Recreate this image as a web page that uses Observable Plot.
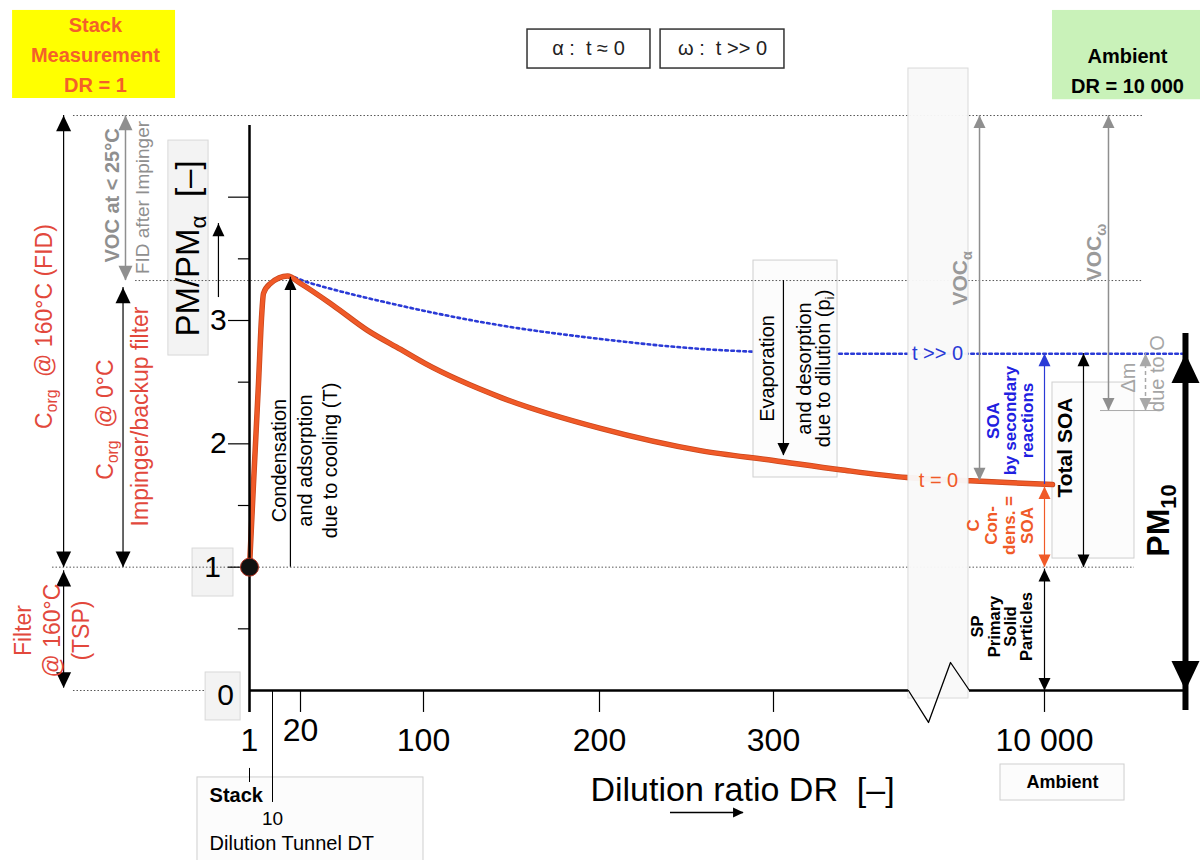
<!DOCTYPE html>
<html><head><meta charset="utf-8">
<script src="https://cdn.jsdelivr.net/npm/d3@7"></script>
<script src="https://cdn.jsdelivr.net/npm/@observablehq/plot@0.6"></script>
<style>
html,body{margin:0;padding:0;background:#fff;}
#chart{width:1200px;height:860px;overflow:hidden;}
svg text{white-space:pre;}
</style></head><body><div id="chart"></div>
<script>
// ---------- piecewise scale knots (broken dilution-ratio axis) ----------
const drKnots  = [-100, 1, 10, 20, 100, 200, 300, 380, 9000, 10000, 12000];
const drPixels = [0, 249, 272, 300, 423, 599, 773, 910, 968, 1044, 1196];
const pmKnots  = [0, 3];
const pmPixels = [690, 320];

// ---------- series ----------
const drT0 = [1, 2.57, 4.52, 5.7, 6.48, 9.22, 15.4, 20, 41.5, 63.6, 85.2, 101.1, 144.2, 200.6, 258, 300, 339, 378, 9025, 10105];
const pmT0 = [1.0, 1.68, 2.49, 3.02, 3.22, 3.30, 3.36, 3.30, 3.12, 2.92, 2.765, 2.65, 2.375, 2.125, 1.945, 1.865, 1.79, 1.727, 1.70, 1.67];
const drTinf = [1, 2.57, 4.52, 6.48, 15.4, 24.6, 85.2, 144, 200.6, 258, 304, 345, 380, 9000, 11855];
const pmTinf = [1.0, 1.68, 2.49, 3.22, 3.36, 3.31, 3.12, 2.96, 2.85, 2.77, 2.74, 2.73, 2.73, 2.73, 2.73];
const stackPoint = [{dr: 1, pm: 1}];

// ---------- ticks ----------
const xTicks = [1, 20, 100, 200, 300, 10000];
const xTickLabels = ["1", "20", "100", "200", "300", "10 000"];
const yMajorTicks = [1, 2, 3, 4];
const yMinorTicks = [0.5, 1.5, 2.5, 3.5];
const yPlainLabels = [2, 3];
const yBoxedLabels = [{x: -14.0, y: 1.0, text: "1"}, {x: -8.7, y: -0.04, text: "0"}];

// ---------- annotation geometry (data units) ----------
const yellowBox = [{x1: -95.1, x2: -29.0, y1: 4.80, y2: 5.514}];
const greenBox = [{x1: 10105, x2: 12100, y1: 4.79, y2: 5.514}];
const legendBoxes = [{x1: 159.1, x2: 229.3, y1: 5.043, y2: 5.359}, {x1: 235.1, x2: 306.4, y1: 5.043, y2: 5.359}];
const labelBoxes = [
  {x1: -31.9, x2: -15.6, y1: 2.716, y2: 4.459},
  {x1: -22.1, x2: -5.5, y1: 0.762, y2: 1.151},
  {x1: -16.8, x2: -2.6, y1: -0.243, y2: 0.146}
];
const noteBoxes = [
  {x1: 288.5, x2: 337.4, y1: 1.727, y2: 3.486},
  {x1: 10105, x2: 11184, y1: 1.070, y2: 2.497},
  {x1: -20.1, x2: 100, y1: -1.5, y2: -0.705},
  {x1: 9421, x2: 11053, y1: -0.892, y2: -0.600}
];
const breakBand = [{x1: 378.8, x2: 9000, y1: -0.065, y2: 5.043}];
const guideLines = [
  {y: 4.662, x1: -70.4, x2: 11289},
  {y: 3.324, x1: -45.2, x2: 11289},
  {y: 1.0, x1: -78.9, x2: 11184},
  {y: 0, x1: -70.4, x2: -16.8}
];
const xAxisPieces = [{y: 0, x1: 1, x2: 378.8}, {y: 0, x1: 9013, x2: 11855}];
const axisBreak = [{dr: 378.8, pm: 0}, {dr: 3055, pm: -0.259}, {dr: 6325, pm: 0.227}, {dr: 9013, pm: 0}];
const thinRules = [{x: 10, y1: -0.908, y2: 0}, {x: 1, y1: -0.746, y2: -0.632}];
const deltaRule = [{y: 2.27, x1: 10737, x2: 11526}];

const blackArrowsLeft = [
  {x: -74.4, y1: 1.0, y2: 4.662, head: "both"},
  {x: -74.4, y1: 0.02, y2: 0.97, head: "both"},
  {x: -50.3, y1: 1.0, y2: 3.268, head: "both"}
];
const grayArrowsLeft = [{x: -49.3, y1: 3.324, y2: 4.662, head: "both"}];
const blackArrows = [
  {x: 16.4, y1: 1.0, y2: 3.35, head: "up"},
  {x: 305.8, y1: 1.905, y2: 3.324, head: "down"},
  {x: 10513, y1: 1.0, y2: 2.732, head: "both"},
  {x: 10000, y1: 0, y2: 0.985, head: "both"},
  {x: -11.6, y1: 3.186, y2: 3.786, head: "up"}
];
const grayArrows = [
  {x: 9145, y1: 1.703, y2: 4.662, head: "both"},
  {x: 10842, y1: 2.270, y2: 4.662, head: "both"}
];
const dashedArrows = [{x: 11329, y1: 2.270, y2: 2.732, head: "both"}];
const blueArrows = [{x: 10000, y1: 1.67, y2: 2.732, head: "up"}];
const redArrows = [{x: 10000, y1: 1.0, y2: 1.654, head: "both"}];
const pmArrow = [{x: 11855, y1: 0, y2: 2.732, head: "both"}];
const drArrow = [{y: -0.989, x1: 240.8, x2: 282.8}];

// ---------- texts ----------
const yellowText = [{x: -61.5, y: 5.173, text: "Stack\nMeasurement\nDR = 1"}];
const greenText = [{x: 11092, y: 5.043, text: "Ambient\nDR = 10 000"}];
const legendText = [{x: 193.75, y: 5.205, text: "α :  t ≈ 0"}, {x: 270.7, y: 5.205, text: "ω :  t >> 0"}];
const yTitle = [{x: -23.7, y: 3.584, text: "PM/PM_{α}  [–]"}];
const leftRedText = [
  {x: -83.0, y: 2.951, text: "C_{org}  @ 160°C (FID)"},
  {x: -58.2, y: 2.197, text: "C_{org}  @ 0°C"},
  {x: -44.0, y: 2.222, text: "Impinger/backup filter"},
  {x: -79.7, y: 0.486, text: "Filter\n@ 160°C\n(TSP)"}
];
const leftGrayBold = [{x: -54.6, y: 4.014, text: "VOC at < 25°C"}];
const leftGray = [{x: -42.2, y: 3.997, text: "FID after Impinger"}];
const condensText = [{x: 22, y: 1.865, text: "Condensation\nand adsorption\ndue to cooling (T)"}];
const evapText1 = [{x: 296.6, y: 2.611, text: "Evaporation"}];
const evapText2 = [{x: 323.9, y: 2.611, text: "and desorption\ndue to dilution (p_{i})"}];
const vocGray = [{x: 7811, y: 3.341, text: "VOC_{α}"}, {x: 10658, y: 3.551, text: "VOC_{ω}"}];
const deltaText = [{x: 11105, y: 2.538, text: "Δm"}, {x: 11487, y: 2.57, text: "due to O"}];
const tInfText = [{x: 4393, y: 2.732, text: "t >> 0"}];
const t0Text = [{x: 4541, y: 1.703, text: "t = 0"}];
const soaText = [{x: 9553, y: 2.189, text: "SOA\nby secondary\nreactions"}];
const condSoaText = [{x: 9421, y: 1.338, text: "C\nCon-\ndens. =\nSOA"}];
const spText = [{x: 9447, y: 0.519, text: "SP\nPrimary\nSolid\nParticles"}];
const totalSoaText = [{x: 10276, y: 1.97, text: "Total SOA"}];
const pm10Text = [{x: 11500, y: 1.378, text: "PM_{10}"}];
const bottomLeftBold = [{x: -15.2, y: -0.851, text: "Stack"}];
const bottomLeft = [{x: -15.2, y: -1.241, text: "Dilution Tunnel DT"}];
const tenLabel = [{x: 10, y: -1.038, text: "10"}];
const xTitle = [{x: 282.2, y: -0.811, text: "Dilution ratio DR  [–]"}];
const ambientLabel = [{x: 10237, y: -0.746, text: "Ambient"}];

// ---------- helpers ----------
const HR = 2.1;
const headUp = {draw(c, s) { const r = Math.sqrt(s / Math.PI); c.moveTo(0, 0); c.lineTo(-r, HR * r); c.lineTo(r, HR * r); c.closePath(); }};
const headDown = {draw(c, s) { const r = Math.sqrt(s / Math.PI); c.moveTo(0, 0); c.lineTo(-r, -HR * r); c.lineTo(r, -HR * r); c.closePath(); }};
const headRight = {draw(c, s) { const r = Math.sqrt(s / Math.PI); c.moveTo(0, 0); c.lineTo(-HR * r, -r); c.lineTo(-HR * r, r); c.closePath(); }};

function arrows(data, {color, width = 1.2, r = 6, dash, inset = 0}) {
  const ups = data.filter(d => d.head === "up" || d.head === "both");
  const downs = data.filter(d => d.head === "down" || d.head === "both");
  return [
    Plot.ruleX(data, {x: "x", y1: "y1", y2: "y2", stroke: color, strokeWidth: width, strokeDasharray: dash, insetTop: inset, insetBottom: inset}),
    Plot.dot(ups, {x: "x", y: "y2", symbol: headUp, r, fill: color, stroke: "none"}),
    Plot.dot(downs, {x: "x", y: "y1", symbol: headDown, r, fill: color, stroke: "none"})
  ];
}
function txt(data, opts) {
  return Plot.text(data, {x: "x", y: "y", text: "text", lineAnchor: "middle", textAnchor: "middle", ...opts});
}
const box = {x1: "x1", x2: "x2", y1: "y1", y2: "y2"};
const RED = "#e2483c", ORANGE = "#f05a28", BLUE = "#2a3ad6", GRAY = "#8f8f8f";

const chart = Plot.plot({
  width: 1200, height: 860,
  marginTop: 0, marginRight: 0, marginBottom: 0, marginLeft: 0,
  x: {type: "linear", domain: drKnots, range: drPixels, axis: null},
  y: {type: "linear", domain: pmKnots, range: pmPixels, axis: null},
  style: {fontFamily: "'Liberation Sans', Arial, Helvetica, sans-serif", background: "white", color: "black"},
  marks: [
    Plot.line(drTinf.map((d, i) => ({dr: d, pm: pmTinf[i]})), {x: "dr", y: "pm", stroke: BLUE, strokeWidth: 2.6, strokeDasharray: "2.6,3.4", curve: "monotone-x"}),
    Plot.rect(yellowBox, {...box, fill: "#ffff00"}),
    Plot.rect(greenBox, {...box, fill: "#c9f2b9"}),
    Plot.rect(legendBoxes, {...box, fill: "white", stroke: "#333", strokeWidth: 1.5}),
    Plot.rect(labelBoxes, {...box, fill: "#f3f3f3", stroke: "#d8d8d8"}),
    Plot.rect(noteBoxes, {...box, fill: "#fcfcfc", stroke: "#cfcfcf"}),
    Plot.ruleY(guideLines, {y: "y", x1: "x1", x2: "x2", stroke: "#555", strokeWidth: 1, strokeDasharray: "1.5,2"}),
    Plot.line(drT0.map((d, i) => ({dr: d, pm: pmT0[i]})), {x: "dr", y: "pm", stroke: "#c8461c", strokeWidth: 5.5, curve: "monotone-x"}),
    Plot.line(drT0.map((d, i) => ({dr: d, pm: pmT0[i]})), {x: "dr", y: "pm", stroke: ORANGE, strokeWidth: 4, curve: "monotone-x"}),
    Plot.rect(breakBand, {...box, fill: "#f9f9f9", fillOpacity: 0.96, stroke: "#d9d9d9"}),
    // axes
    Plot.ruleX([1], {x: d => d, y1: -0.178, y2: 4.581, stroke: "black", strokeWidth: 2.5}),
    Plot.ruleY(xAxisPieces, {y: "y", x1: "x1", x2: "x2", stroke: "black", strokeWidth: 2.5}),
    Plot.line(axisBreak, {x: "dr", y: "pm", stroke: "black", strokeWidth: 1.3}),
    Plot.ruleX(xTicks, {x: d => d, y1: -0.178, y2: 0, stroke: "black", strokeWidth: 1.2}),
    Plot.ruleY(yMajorTicks, {y: d => d, x1: -7.5, x2: 1, stroke: "black", strokeWidth: 1.2}),
    Plot.ruleY(yMinorTicks, {y: d => d, x1: -3.5, x2: 1, stroke: "black", strokeWidth: 1.2}),
    Plot.ruleX(thinRules, {x: "x", y1: "y1", y2: "y2", stroke: "black", strokeWidth: 1}),
    Plot.ruleY(deltaRule, {y: "y", x1: "x1", x2: "x2", stroke: "#aaa", strokeWidth: 1}),
    // arrows
    ...arrows(blackArrowsLeft, {color: "black", r: 7.5}),
    ...arrows(grayArrowsLeft, {color: GRAY, width: 1.5, r: 7}),
    ...arrows(blackArrows, {color: "black", r: 6}),
    ...arrows(grayArrows, {color: GRAY, width: 1.5, r: 6}),
    ...arrows(dashedArrows, {color: "#a8a8a8", width: 1.5, r: 6, dash: "4,3"}),
    ...arrows(blueArrows, {color: BLUE, width: 1.2, r: 6}),
    ...arrows(redArrows, {color: ORANGE, width: 1.2, r: 6}),
    ...arrows(pmArrow, {color: "black", width: 6, r: 14, inset: 20}),
    Plot.ruleY(drArrow, {y: "y", x1: "x1", x2: "x2", stroke: "black", strokeWidth: 1.3}),
    Plot.dot(drArrow, {x: "x2", y: "y", symbol: headRight, r: 5, fill: "black", stroke: "none"}),
    // texts
    txt(yellowText, {fill: "#f4602a", fontWeight: "bold", fontSize: 20, lineHeight: 1.48}),
    txt(greenText, {fill: "black", fontWeight: "bold", fontSize: 20, lineHeight: 1.5}),
    txt(legendText, {fill: "#222", fontSize: 20}),
    txt(yTitle, {rotate: -90, fontSize: 33, fill: "black"}),
    txt(leftRedText, {rotate: -90, fontSize: 23, fill: RED, lineHeight: 1.28}),
    txt(leftGrayBold, {rotate: -90, fontSize: 20, fontWeight: "bold", fill: GRAY}),
    txt(leftGray, {rotate: -90, fontSize: 19, fill: GRAY}),
    txt(condensText, {rotate: -90, fontSize: 20, fill: "black", lineHeight: 1.28}),
    txt(evapText1, {rotate: -90, fontSize: 20, fill: "black"}),
    txt(evapText2, {rotate: -90, fontSize: 20, fill: "black", lineHeight: 0.92}),
    txt(vocGray, {rotate: -90, fontSize: 21, fontWeight: "bold", fill: "#9a9a9a"}),
    txt(deltaText, {rotate: -90, fontSize: 20, fill: "#a5a5a5"}),
    txt(tInfText, {fontSize: 20, fill: BLUE}),
    txt(t0Text, {fontSize: 20, fill: ORANGE}),
    txt(soaText, {rotate: -90, fontSize: 17, fontWeight: "bold", fill: "#2020e0", lineHeight: 1.0}),
    txt(condSoaText, {rotate: -90, fontSize: 17, fontWeight: "bold", fill: ORANGE, lineHeight: 1.05}),
    txt(spText, {rotate: -90, fontSize: 16.5, fontWeight: "bold", fill: "black", lineHeight: 1.0}),
    txt(totalSoaText, {rotate: -90, fontSize: 21, fontWeight: "bold", fill: "black"}),
    txt(pm10Text, {rotate: -90, fontSize: 32, fontWeight: "bold", fill: "black"}),
    // tick labels
    Plot.text(yPlainLabels, {x: -11.6, y: d => d, text: d => String(d), fontSize: 30, fill: "black"}),
    txt(yBoxedLabels, {fontSize: 30, fill: "black"}),
    Plot.text(xTicks.filter(t => t !== 20), {x: d => d, y: -0.405, text: d => xTickLabels[xTicks.indexOf(d)], fontSize: 32, fill: "black"}),
    Plot.text(xTicks.filter(t => t === 20), {x: d => d, y: -0.324, text: d => xTickLabels[xTicks.indexOf(d)], fontSize: 32, fill: "black"}),
    txt(tenLabel, {fontSize: 19, fill: "black"}),
    txt(bottomLeftBold, {fontSize: 20, fontWeight: "bold", textAnchor: "start", fill: "black"}),
    txt(bottomLeft, {fontSize: 20, textAnchor: "start", fill: "black"}),
    txt(xTitle, {fontSize: 34, fill: "black"}),
    txt(ambientLabel, {fontSize: 18, fontWeight: "bold", fill: "black"}),
    Plot.dot(stackPoint, {x: "dr", y: "pm", r: 9, fill: "#111", stroke: "#b03020", strokeWidth: 1})
  ]
});

function applySubscripts(root) {
  const ns = "http://www.w3.org/2000/svg";
  const walker = document.createTreeWalker(root, NodeFilter.SHOW_TEXT);
  const targets = [];
  while (walker.nextNode()) if (walker.currentNode.nodeValue.includes("_{")) targets.push(walker.currentNode);
  for (const node of targets) {
    const parts = node.nodeValue.split(/_\{([^}]*)\}/);
    const frag = document.createDocumentFragment();
    parts.forEach((part, i) => {
      if (i === 0) { if (part) frag.appendChild(document.createTextNode(part)); return; }
      if (!part) return;
      const t = document.createElementNS(ns, "tspan");
      if (i % 2 === 1) { t.setAttribute("font-size", "68%"); t.setAttribute("dy", "0.32em"); }
      else { t.setAttribute("dy", "-0.2176em"); }
      t.textContent = part;
      frag.appendChild(t);
    });
    node.parentNode.replaceChild(frag, node);
  }
}
applySubscripts(chart);
document.getElementById("chart").appendChild(chart);
</script>
</body></html>
